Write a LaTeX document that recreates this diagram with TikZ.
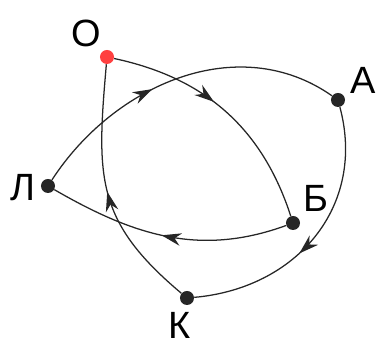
\documentclass[tikz,border=0pt]{standalone}
\usepackage{fontspec}
\newfontfamily\lblfont{Liberation Sans}
\usetikzlibrary{arrows.meta, decorations.markings}

\begin{document}
\begin{tikzpicture}[
    x=0.025cm, y=0.025cm,
    dot/.style={circle, fill=black!85, inner sep=0pt, minimum size=0.35cm},
    lbl/.style={font=\lblfont\fontsize{27}{30}\selectfont, inner sep=0pt},
    edge/.style={line width=0.9pt, black!85},
    midarrow/.style={postaction={decorate, decoration={markings,
        mark=at position #1 with {\arrow{Stealth[length=14pt, width=9pt]}}}}}
  ]
  \useasboundingbox (0,0) rectangle (377,347);

  % points of the route
  \node[dot, fill=red!75] (o) at (107,290) {};
  \node[dot] (a) at (338,247) {};
  \node[dot] (l) at (48,161) {};
  \node[dot] (b) at (293,124) {};
  \node[dot] (k) at (187,49) {};

  \node[lbl] (o-lbl) at (86,314) {О};
  \node[lbl] (a-lbl) at (363,267) {А};
  \node[lbl] (l-lbl) at (23,159) {Л};
  \node[lbl] (b-lbl) at (316,149) {Б};
  \node[lbl] (k-lbl) at (180,22) {К};

  % the closed route О-Б-Л-А-К-О
  \draw[edge, midarrow=0.44] (o) to[out=-12, in=108] (b);
  \draw[edge, midarrow=0.52] (b) to[out=200, in=-30] (l);
  \draw[edge, midarrow=0.42] (l) to[out=57, in=145] (a);
  \draw[edge, midarrow=0.58] (a) to[out=-75, in=5, looseness=1.1] (k);
  \draw[edge, midarrow=0.5] (k) to[out=140, in=-95, looseness=1.2] (o);
\end{tikzpicture}
\end{document}
